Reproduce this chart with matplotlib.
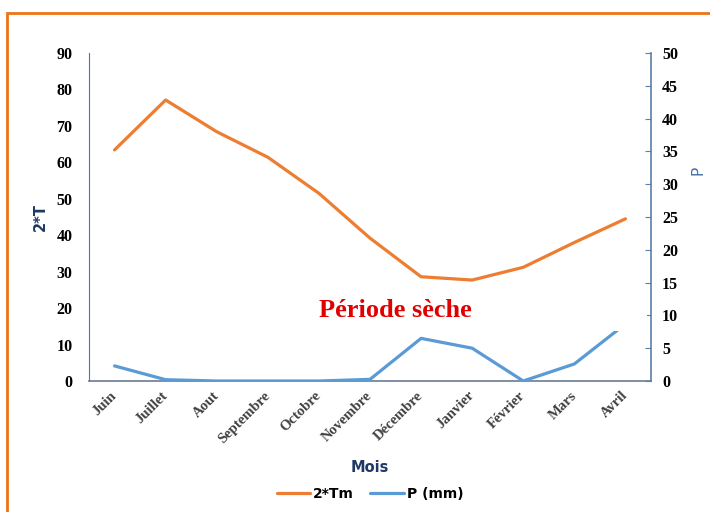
import matplotlib.pyplot as plt
from matplotlib.patches import Rectangle

mois = ['Juin', 'Juillet', 'Aout', 'Septembre', 'Octobre', 'Novembre',
        'Décembre', 'Janvier', 'Février', 'Mars', 'Avril']
t2 = [63.4, 77.1, 68.4, 61.4, 51.5, 39.2, 28.6, 27.7, 31.2, 38.0, 44.5]
p_mm = [2.3, 0.2, 0.0, 0.0, 0.0, 0.25, 6.5, 5.0, 0.0, 2.6, 8.7]

orange = '#ED7D31'
bleu = '#5B9BD5'
navy = '#1F3864'
serif = 'Liberation Serif'

fig = plt.figure(figsize=(7.1, 5.12), dpi=100)
ax = fig.add_axes([89/710, 1-381/512, (651-89)/710, (381-53)/512])
ax2 = ax.twinx()

x = list(range(len(mois)))
l1, = ax.plot(x, t2, color=orange, lw=2.3, solid_capstyle='round', label='2*Tm')
l2, = ax2.plot(x, p_mm, color=bleu, lw=2.3, solid_capstyle='round', label='P (mm)')

ax.set_xlim(-0.5, 10.5)
ax.set_ylim(0, 90)
ax2.set_ylim(0, 50)
ax.set_yticks(range(0, 91, 10))
ax2.set_yticks(range(0, 51, 5))
ax.set_xticks(x)
ax.set_xticklabels(mois, rotation=45, ha='right', va='center', rotation_mode='anchor',
                   fontfamily=serif, fontweight='bold', fontsize=10.5, color='#404040')

for a in (ax, ax2):
    for s in a.spines.values():
        s.set_visible(False)
ax.spines['left'].set_visible(True)
ax.spines['left'].set_color('#4472C4')
ax.spines['bottom'].set_visible(True)
ax.spines['bottom'].set_color('#6A7B95')
ax.spines['bottom'].set_linewidth(1.2)
ax2.spines['right'].set_visible(True)
ax2.spines['right'].set_color('#5A7FA8')
ax2.spines['right'].set_linewidth(1.2)

ax.tick_params(axis='y', length=0, pad=12)
ax.tick_params(axis='x', length=0, pad=9)
ax2.tick_params(axis='y', direction='in', length=4, color='#5A7FA8', pad=8)
for lab in ax.get_yticklabels() + ax2.get_yticklabels():
    lab.set_fontfamily(serif)
    lab.set_fontweight('bold')
    lab.set_fontsize(11.5)

ax.set_ylabel('2*T', fontweight='bold', color=navy, fontsize=10.5, labelpad=6)
ax2.set_ylabel('P', color='#4A6FA5', fontsize=11)
ax2.yaxis.set_label_coords(1.07, 0.643)

# zone blanche de la zone de texte (coupe la courbe P)
ax2.add_patch(Rectangle((3.6, 7.55), 6.82, 6.0, facecolor='white', edgecolor='none',
                        zorder=5))
ax2.text(5.5, 10.7, 'Période sèche', color='#E00000', fontfamily=serif,
         fontweight='bold', fontsize=19, ha='center', va='center', zorder=6)

fig.text(370/710, 1-467/512, 'Mois', ha='center', va='center', fontweight='bold',
         color=navy, fontsize=10.5)
fig.legend(handles=[l1, l2], loc='center', bbox_to_anchor=(370/710, 1-494/512),
           ncol=2, frameon=False, prop={'weight': 'bold', 'size': 10},
           handlelength=2.4, handletextpad=0.2, columnspacing=1.2)

fig.add_artist(Rectangle((7/710, -0.1), 1.1, 1-13/512+0.1, transform=fig.transFigure,
                         facecolor='none', edgecolor='#EE7318', lw=2))

fig.savefig('out.png', dpi=100)
